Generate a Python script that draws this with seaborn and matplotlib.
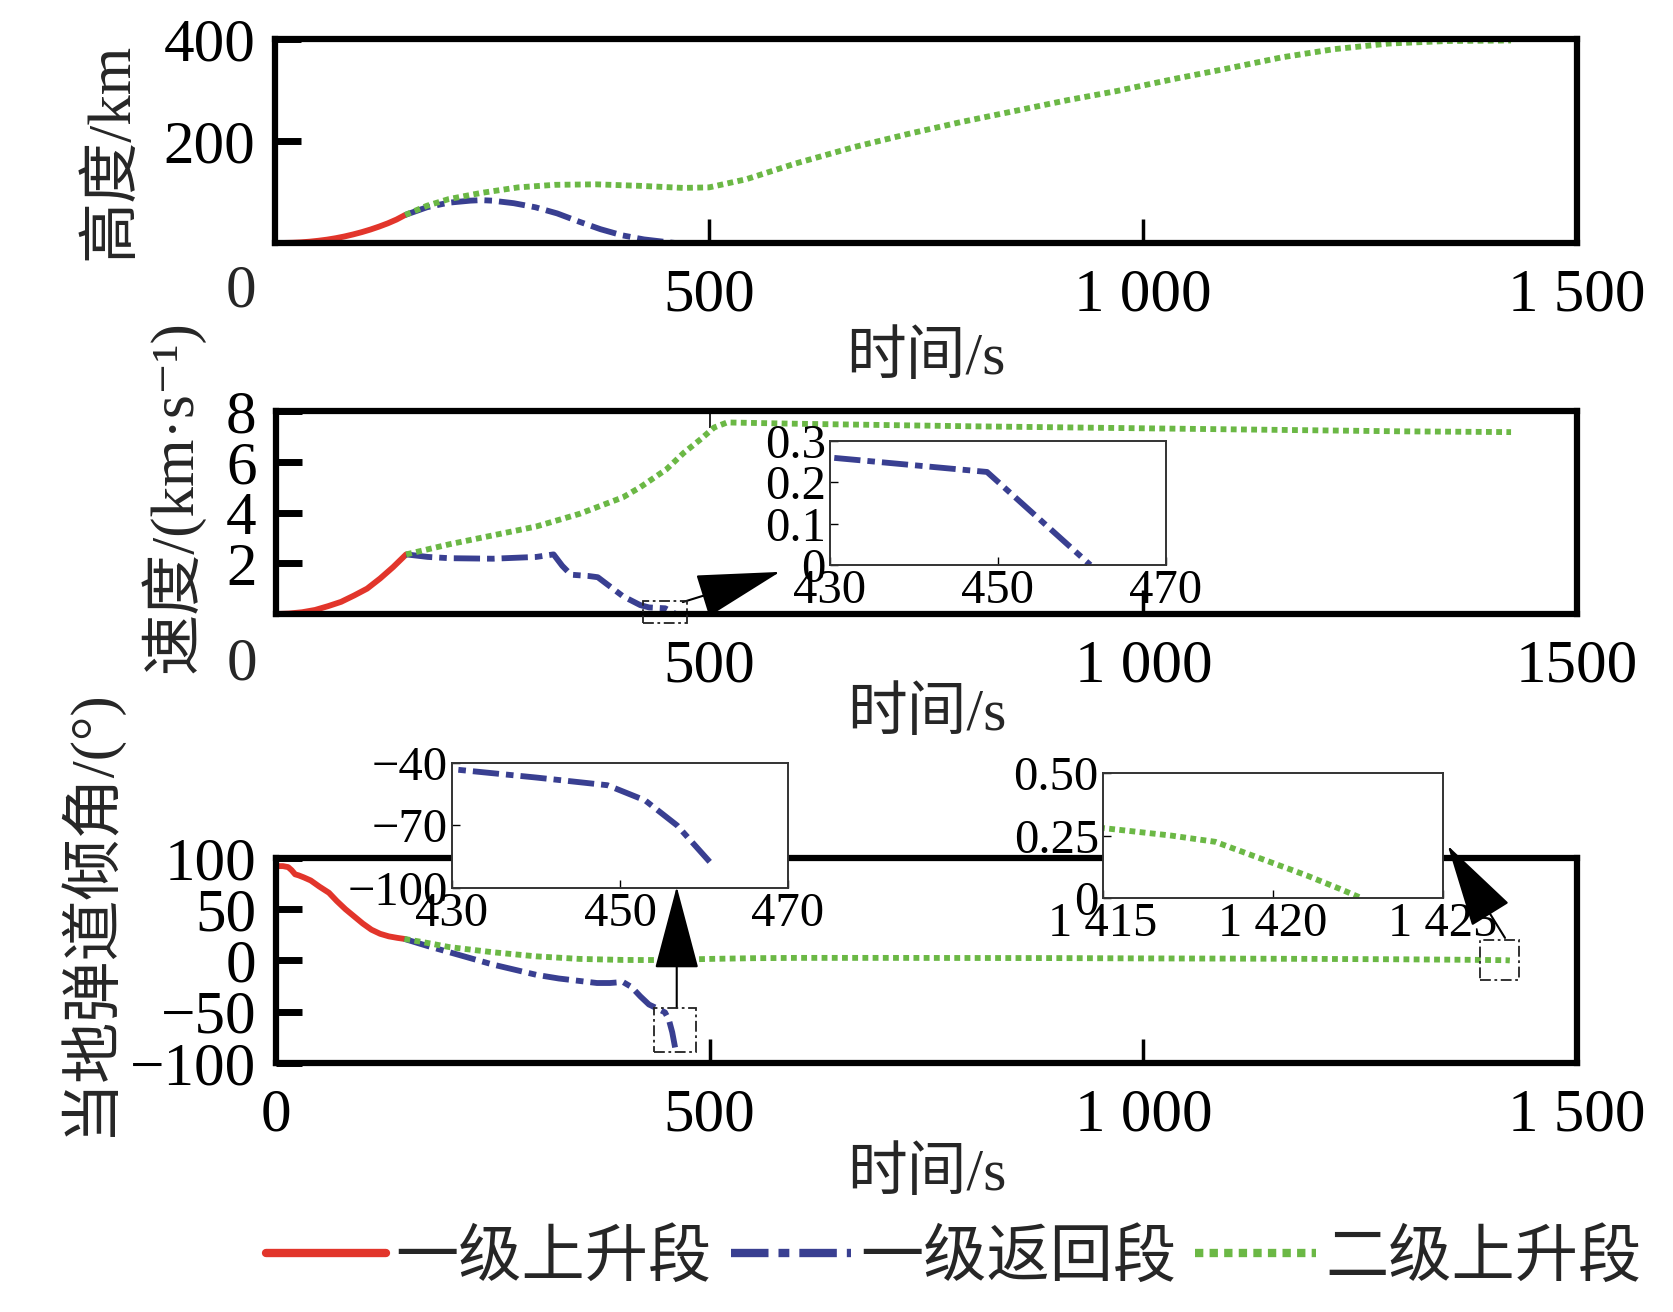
import numpy as np
import pandas as pd
import seaborn as sns
import matplotlib.pyplot as plt
from matplotlib.lines import Line2D
from matplotlib.patches import Rectangle

# ---- data ----
# altitude (km)
t_h_up1 = [0, 10, 20, 30, 40, 50, 60, 70, 80, 90, 100, 110, 120, 130, 140, 150]
h_up1 = [0, 0.1, 0.5, 1.3, 2.6, 4.4, 6.6, 9.4, 12.8, 16.8, 21.3, 26.4, 32.2, 38.6, 46, 55]
t_h_ret1 = [150, 175, 200, 225, 237, 250, 275, 300, 325, 350, 375, 400, 425, 450, 461]
h_ret1 = [55, 70, 79, 83, 84, 83, 78, 70, 58, 42, 27, 15, 7, 2, 0]
t_h_up2 = [150, 175, 200, 237, 280, 322, 370, 421, 470, 500, 543, 600, 667, 730, 790,
           850, 913, 970, 1037, 1100, 1160, 1220, 1283, 1350, 1424]
h_up2 = [55, 73, 86, 98, 109, 114, 115, 112, 108, 109, 125, 156, 188, 214, 237,
         258, 280, 298, 322, 343, 364, 380, 391, 396, 397]

# velocity (km/s)
t_v_up1 = [0, 15, 30, 45, 60, 75, 90, 105, 120, 135, 150]
v_up1 = [0, 0.02, 0.07, 0.16, 0.31, 0.48, 0.73, 1.0, 1.4, 1.85, 2.35]
t_v_ret1 = [150, 175, 200, 250, 300, 320, 330, 340, 360, 371, 400, 420, 430, 448.7, 461]
v_ret1 = [2.35, 2.25, 2.2, 2.18, 2.25, 2.35, 1.9, 1.55, 1.5, 1.45, 0.7, 0.35, 0.26, 0.225, 0]
t_v_up2 = [150, 200, 250, 300, 350, 400, 420, 450, 470, 490, 505, 520, 600, 700, 800,
           900, 1000, 1100, 1200, 1300, 1424]
v_up2 = [2.35, 2.75, 3.1, 3.45, 3.95, 4.6, 5.0, 5.7, 6.35, 6.9, 7.35, 7.55, 7.5, 7.45, 7.4,
         7.36, 7.32, 7.28, 7.24, 7.2, 7.17]

# local flight path angle (deg)
t_g_up1 = [0, 8, 14, 18, 22, 26, 32, 40, 50, 61, 70, 80, 90, 100, 110, 120, 130, 140, 148]
g_up1 = [92, 92, 91, 88, 84, 83, 81, 78, 72, 66, 58, 50, 43, 36, 30, 26, 23.5, 22, 21]
t_g_ret1 = [148, 175, 200, 225, 250, 275, 300, 326, 350, 370, 385, 400, 410, 420, 430,
            440, 448.5, 453, 456.8, 460.8]
g_ret1 = [21, 14, 8, 2, -4, -9, -14, -17.6, -20, -22, -22, -21, -26, -35, -43,
          -47, -50.7, -58, -70, -88]
t_g_up2 = [148, 175, 200, 250, 300, 350, 400, 426, 450, 500, 550, 600, 700, 800, 900,
           1000, 1100, 1200, 1300, 1380, 1415, 1416, 1417, 1418.3, 1419, 1420, 1421, 1422, 1422.6]
g_up2 = [21, 17, 13, 8, 4, 1.5, 0.5, 0.4, 0.5, 1.5, 2.2, 2.5, 2.5, 2.4, 2.3,
         2.0, 1.8, 1.5, 1.1, 0.6, 0.28, 0.265, 0.25, 0.225, 0.19, 0.14, 0.09, 0.035, 0]

legend_labels = ['一级上升段', '一级返回段', '二级上升段']
xtick_vals = [0, 500, 1000, 1500]
xtick_txt = ['0', '500', '1 000', '1 500']
xtick_txt_mid = ['', '500', '1 000', '1500']

# ---- style ----
sns.set_style('white')
plt.rcParams['font.family'] = ['Liberation Serif', 'Noto Sans CJK SC', 'DejaVu Sans']
plt.rcParams['axes.unicode_minus'] = True

RED, BLUE, GREEN = '#e2352b', '#393f91', '#6bb845'
LW = 4.2
STYLES = [
    dict(color=RED, linewidth=LW, linestyle='-'),
    dict(color=BLUE, linewidth=LW, linestyle=(0, (4.5, 1.2, 1.3, 1.2))),
    dict(color=GREEN, linewidth=LW, linestyle=(0, (1, 0.75))),
]
FS = 44
FS_IN = 35
ARROW = dict(arrowstyle='-|>,head_length=1.7,head_width=0.45', mutation_scale=32,
             lw=1.5, color='k', shrinkA=0, shrinkB=0)
BOX = dict(fill=False, ec='#222222', lw=1.3, ls=(0, (6, 2, 1.5, 2)), clip_on=False, zorder=5)

fig = plt.figure(figsize=(16.73, 13.12), dpi=100)
ax1 = fig.add_axes([0.1644, 0.8148, 0.7782, 0.1555])
ax2 = fig.add_axes([0.1650, 0.5320, 0.7776, 0.1547])
ax3 = fig.add_axes([0.1650, 0.1898, 0.7776, 0.1563])


def draw(ax, series):
    for (t, y), st in zip(series, STYLES):
        sns.lineplot(x=t, y=y, ax=ax, sort=False, estimator=None,
                     dash_capstyle='butt', **st)


def style_main(ax, ylim, yticks, yticklabels, xlabels):
    ax.set_xlim(0, 1500)
    ax.set_ylim(*ylim)
    ax.set_xticks(xtick_vals)
    ax.set_xticklabels(xlabels)
    ax.set_yticks(yticks)
    ax.set_yticklabels(yticklabels)
    for s in ax.spines.values():
        s.set_linewidth(4.5)
        s.set_color('k')
        s.set_visible(True)
    ax.tick_params(axis='both', direction='in', labelsize=FS, colors='k',
                   bottom=True, left=True, top=False, right=False)
    ax.tick_params(axis='x', length=17, width=2.5, pad=18)
    ax.tick_params(axis='y', length=19, width=5, pad=14)
    ax.set_xlabel('时间/s', fontsize=43, va='center')


def style_inset(ax, xlim, ylim, xt, xtl, yt, ytl):
    ax.set_facecolor('white')
    ax.set_xlim(*xlim)
    ax.set_ylim(*ylim)
    ax.set_xticks(xt)
    ax.set_xticklabels(xtl)
    ax.set_yticks(yt)
    ax.set_yticklabels(ytl)
    for s in ax.spines.values():
        s.set_linewidth(1.4)
        s.set_color('#333333')
        s.set_visible(True)
    ax.tick_params(axis='both', direction='in', length=6, width=1,
                   labelsize=FS_IN, pad=3, colors='k',
                   bottom=True, left=True, top=False, right=False)
    ax.set_xlabel('')
    ax.set_ylabel('')


# ---- panel 1: altitude ----
draw(ax1, [(t_h_up1, h_up1), (t_h_ret1, h_ret1), (t_h_up2, h_up2)])
style_main(ax1, (0, 400), [200, 400], ['200', '400'], [''] + xtick_txt[1:])
ax1.set_ylabel('高度/km', fontsize=FS, va='center')
ax1.yaxis.set_label_coords(-0.125, 0.45)
ax1.xaxis.set_label_coords(0.5, -0.57)
ax1.text(-0.026, -0.24, '0', transform=ax1.transAxes, ha='center', va='center', fontsize=FS)

# ---- panel 2: velocity ----
draw(ax2, [(t_v_up1, v_up1), (t_v_ret1, v_ret1), (t_v_up2, v_up2)])
style_main(ax2, (0, 8), [2, 4, 6, 8], ['2', '4', '6', '8'], xtick_txt_mid)
top2 = ax2.secondary_xaxis('top')
top2.set_xticks([500])
top2.set_xticklabels([''])
top2.tick_params(direction='in', length=12, width=1.2, colors='k', top=True)
top2.spines['top'].set_visible(False)
ax2.set_ylabel('速度/(km·s\u207b\u00b9)', fontsize=FS, va='center')
ax2.yaxis.set_label_coords(-0.080, 0.58)
ax2.xaxis.set_label_coords(0.5, -0.50)
ax2.text(-0.026, -0.25, '0', transform=ax2.transAxes, ha='center', va='center', fontsize=FS)
ax2.add_patch(Rectangle((423, -0.35), 51, 0.86, **BOX))
ax2.annotate('', xy=(581, 1.66), xytext=(469, 0.47), annotation_clip=False, arrowprops=ARROW)

ax2_in = fig.add_axes([0.4961, 0.5694, 0.2008, 0.0945], zorder=10)
draw(ax2_in, [(t_v_up1, v_up1), (t_v_ret1, v_ret1), (t_v_up2, v_up2)])
style_inset(ax2_in, (430, 470), (0, 0.3), [430, 450, 470], ['430', '450', '470'],
            [0, 0.1, 0.2, 0.3], ['0', '0.1', '0.2', '0.3'])

# ---- panel 3: flight path angle ----
draw(ax3, [(t_g_up1, g_up1), (t_g_ret1, g_ret1), (t_g_up2, g_up2)])
style_main(ax3, (-100, 100), [-100, -50, 0, 50, 100],
           ['\u2212100', '\u221250', '0', '50', '100'], xtick_txt)
ax3.set_ylabel('当地弹道倾角/(°)', fontsize=FS, va='center')
ax3.yaxis.set_label_coords(-0.145, 0.737)
ax3.xaxis.set_label_coords(0.5, -0.55)

ax3.add_patch(Rectangle((436, -89), 48, 43, **BOX))
ax3.annotate('', xy=(462, 72), xytext=(462, -46), annotation_clip=False, arrowprops=ARROW)
ax3.add_patch(Rectangle((1388, -19), 45, 39, **BOX))
ax3.annotate('', xy=(1351, 112), xytext=(1417, 22), annotation_clip=False, arrowprops=ARROW)

ax3_in1 = fig.add_axes([0.2702, 0.3232, 0.2008, 0.0953], zorder=10)
draw(ax3_in1, [(t_g_up1, g_up1), (t_g_ret1, g_ret1), (t_g_up2, g_up2)])
style_inset(ax3_in1, (430, 470), (-100, -40), [430, 450, 470], ['430', '450', '470'],
            [-100, -70, -40], ['\u2212100', '\u221270', '\u221240'])

ax3_in2 = fig.add_axes([0.6593, 0.3155, 0.2032, 0.0953], zorder=10)
draw(ax3_in2, [(t_g_up1, g_up1), (t_g_ret1, g_ret1), (t_g_up2, g_up2)])
style_inset(ax3_in2, (1415, 1425), (0, 0.5), [1415, 1420, 1425],
            ['1 415', '1 420', '1 425'], [0, 0.25, 0.5], ['0', '0.25', '0.50'])

# ---- legend ----
handles = [Line2D([], [], dash_capstyle='butt', **{**st, 'linewidth': 6}) for st in STYLES]
fig.legend(handles, legend_labels, loc='center', bbox_to_anchor=(0.570, 0.040),
           ncol=3, frameon=False, fontsize=45.5, handlelength=1.9,
           handletextpad=0.15, columnspacing=0.3)

fig.savefig('out.png', dpi=100)
